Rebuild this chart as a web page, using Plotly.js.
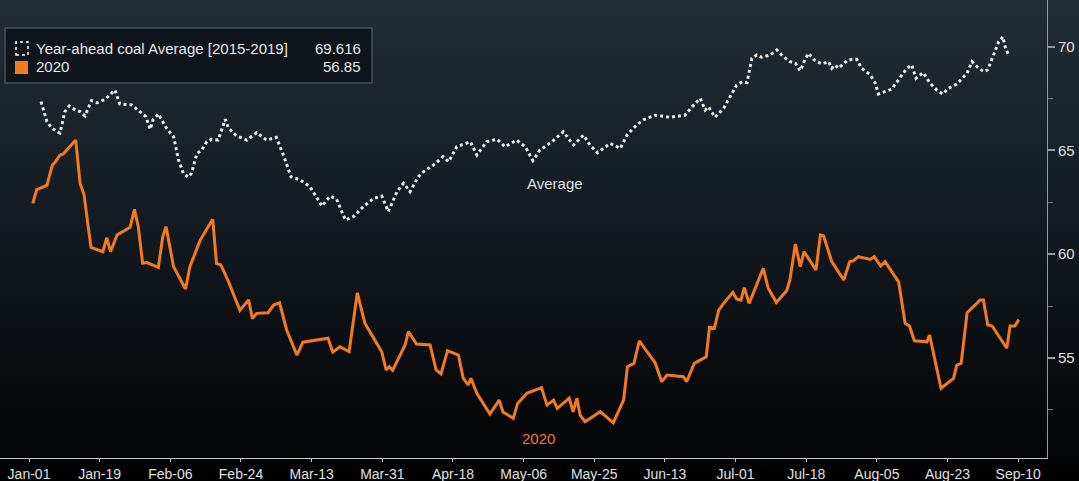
<!DOCTYPE html>
<html>
<head>
<meta charset="utf-8">
<script src="https://cdn.plot.ly/plotly-3.0.1.min.js"></script>
<style>
html,body{margin:0;padding:0;width:1079px;height:481px;overflow:hidden;}
body{background:linear-gradient(to bottom,#232d37 0%,#141b22 45%,#030405 95%,#000 100%);}
#chart{width:1079px;height:481px;}
</style>
</head>
<body>
<div id="chart"></div>
<script>
// Trading-day index (0 = Jan-01) and values
const tickDays = [0,13,26,39,52,65,78,91,104,117,130,143,156,169,182];
const tickLabels = ["Jan-01","Jan-19","Feb-06","Feb-24","Mar-13","Mar-31","Apr-18","May-06","May-25","Jun-13","Jul-01","Jul-18","Aug-05","Aug-23","Sep-10"];

const avgDays = [2.2,3.3,4.2,5.7,6.6,7.4,8.5,9.4,10.3,11.5,12.5,14.0,15.8,16.7,18.9,20.4,21.5,22.3,22.8,23.8,25.3,26.6,27.5,28.4,29.3,29.9,30.9,31.8,32.7,33.6,34.8,36.1,36.7,38.2,40.1,41.9,43.7,45.5,46.8,48.2,49.9,51.7,53.9,55.4,56.6,58.2,59.7,61.5,63.4,64.9,66.1,67.7,68.9,70.1,71.6,72.6,74.4,76.2,77.2,78.7,81.2,82.4,84.2,86.1,87.6,89.7,91.3,92.7,94.0,96.2,98.3,100.2,102.0,103.2,104.6,106.9,108.8,110.0,111.8,113.0,115.2,117.9,120.7,122.0,123.5,124.4,125.0,126.2,127.8,130.2,131.2,132.1,133.0,133.9,134.8,136.4,137.6,138.8,140.0,141.0,141.9,142.8,143.4,144.6,145.9,147.1,147.7,148.3,148.9,150.5,151.4,152.3,153.2,154.8,155.7,156.3,157.5,158.7,160.2,161.5,162.4,163.2,164.5,165.8,167.0,168.1,169.2,170.7,172.6,173.5,174.4,175.6,176.4,177.5,178.4,179.2,179.6,180.2];
const avgValues = [67.35,66.39,66.07,65.83,66.87,67.14,66.95,66.87,66.66,67.40,67.30,67.46,67.91,67.24,67.19,66.87,66.63,66.02,66.47,66.76,66.07,65.66,64.54,63.90,63.71,63.90,64.86,65.02,65.42,65.54,65.50,66.50,66.07,65.70,65.50,65.86,65.50,65.63,64.78,63.73,63.58,63.25,62.32,62.80,62.65,61.65,61.81,62.29,62.69,62.80,62.05,63.01,63.42,63.01,63.73,63.98,64.30,64.70,64.46,65.18,65.42,64.78,65.42,65.54,65.18,65.50,65.18,64.51,65.02,65.42,65.90,65.26,65.74,65.26,64.89,65.34,65.10,65.74,66.23,66.47,66.70,66.60,66.70,67.10,67.51,66.95,67.11,66.60,67.03,68.15,68.31,68.27,69.44,69.60,69.49,69.60,69.84,69.52,69.28,69.20,68.84,69.39,69.68,69.33,69.17,69.28,68.96,69.12,68.96,69.33,69.39,69.39,68.96,68.64,68.24,67.72,67.83,67.95,68.48,68.96,69.12,68.48,68.75,68.24,67.91,67.72,68.00,68.20,68.72,69.28,69.04,68.80,68.88,69.60,70.24,70.48,70.00,69.616];

const y2020Days = [0.7,1.4,3.3,4.3,4.8,5.7,6.3,8.6,9.4,10.1,11.4,13.6,14.3,15.0,16.2,17.1,18.6,19.4,20.1,20.9,21.7,23.8,24.6,25.2,26.6,28.8,29.6,31.5,33.8,34.5,35.3,36.7,38.8,40.4,41.1,41.9,44.0,45.0,46.1,47.4,48.6,49.3,50.4,52.6,55.0,55.9,57.2,58.9,60.4,61.8,64.9,65.7,66.3,66.9,69.2,69.8,71.3,73.8,74.9,75.8,77.0,79.0,79.9,80.8,81.3,82.4,84.8,86.5,87.2,89.1,89.9,91.6,94.3,95.3,96.5,97.2,99.4,100.1,100.8,101.4,102.3,105.1,107.5,109.4,110.1,111.3,112.3,113.7,115.2,116.4,117.4,120.4,121.0,122.4,124.6,125.2,126.1,126.9,127.8,129.5,130.2,131.0,131.6,132.5,135.1,136.0,137.5,139.4,140.0,141.0,141.9,142.6,144.8,145.6,146.2,147.7,149.9,151.0,151.7,152.6,154.8,155.5,156.7,157.5,160.0,161.2,162.0,162.9,165.2,165.7,167.8,170.1,170.7,171.5,172.6,175.0,175.6,176.4,177.2,179.9,180.5,181.4,182.1];
const y2020Values = [62.45,63.10,63.33,64.30,64.43,64.78,64.83,65.50,63.40,62.90,60.33,60.12,60.80,60.12,60.93,61.08,61.30,62.16,61.33,59.56,59.60,59.37,60.84,61.33,59.40,58.32,59.40,60.68,61.68,59.56,59.48,58.68,57.30,57.80,56.90,57.15,57.18,57.55,57.66,56.35,55.62,55.14,55.76,55.86,55.95,55.28,55.54,55.30,58.14,56.67,55.30,54.42,54.58,54.40,55.63,56.27,55.67,55.63,54.42,54.23,55.35,55.14,54.02,53.70,54.02,53.30,52.30,52.97,52.40,52.09,52.81,53.30,53.57,52.73,52.97,52.57,53.06,52.40,53.06,52.25,51.93,52.41,51.88,52.97,54.58,54.74,55.83,55.30,54.77,53.86,54.18,54.10,53.86,54.74,55.06,56.48,56.43,57.31,57.63,58.16,57.84,57.79,58.39,57.63,59.32,58.36,57.68,58.24,58.76,60.49,59.40,60.12,59.24,60.93,60.88,59.64,58.76,59.64,59.69,59.88,59.75,59.88,59.43,59.64,58.67,56.67,56.54,55.83,55.78,56.10,53.54,54.02,54.66,54.74,57.18,57.79,57.79,56.59,56.54,55.47,56.54,56.54,56.85];

const seriesNames = ["Year-ahead coal Average [2015-2019]","2020"];
const lastValues = ["69.616","56.85"];
const lineLabels = ["Average","2020"];

const ORANGE = "#f47a1f";
const WHITE = "#ececec";
const FONT = "Liberation Sans, Arial, sans-serif";
const PW = 1047, PH = 458;

const traces = [
  {x: avgDays, y: avgValues, type: "scatter", mode: "lines", name: seriesNames[0],
   line: {color: WHITE, width: 3, dash: "dot"}, hoverinfo: "skip"},
  {x: y2020Days, y: y2020Values, type: "scatter", mode: "lines", name: seriesNames[1],
   line: {color: ORANGE, width: 3}, hoverinfo: "skip"}
];

const layout = {
  width: 1079, height: 481,
  margin: {l: 0, r: 32, t: 0, b: 23, autoexpand: false},
  paper_bgcolor: "rgba(0,0,0,0)",
  plot_bgcolor: "rgba(0,0,0,0)",
  showlegend: false,
  font: {family: FONT, color: "#e0e0e0", size: 15},
  xaxis: {
    range: [-5.34, 187.3],
    tickmode: "array", tickvals: tickDays, ticktext: tickLabels,
    showgrid: false, zeroline: false,
    showline: true, linecolor: "#c8c8c8", linewidth: 1,
    ticks: "outside", ticklen: 3, tickcolor: "#c8c8c8", tickwidth: 1,
    tickfont: {family: FONT, size: 14, color: "#e0e0e0"}
  },
  yaxis: {
    side: "right",
    range: [50.18, 72.25],
    tickmode: "linear", tick0: 0, dtick: 5,
    showgrid: false, zeroline: false,
    showline: true, linecolor: "#9a9a9a", linewidth: 1,
    ticks: "outside", ticklen: 7, tickcolor: "#9a9a9a", tickwidth: 2,
    minor: {dtick: 2.5, tick0: 0, ticks: "outside", ticklen: 5, tickcolor: "#7a7a7a", tickwidth: 1},
    tickfont: {family: FONT, size: 15, color: "#e0e0e0"}
  },
  shapes: [
    {type: "rect", xref: "paper", yref: "paper",
     x0: 5/PW, x1: 372/PW, y0: 1 - 83/PH, y1: 1 - 28/PH,
     line: {color: "#4a5057", width: 1.5}, fillcolor: "#0f151b", layer: "above"},
    {type: "rect", xref: "paper", yref: "paper",
     x0: 16/PW, x1: 28/PW, y0: 1 - 55/PH, y1: 1 - 42/PH,
     line: {color: "#ffffff", width: 1.5, dash: "dot"}, fillcolor: "rgba(0,0,0,0)", layer: "above"},
    {type: "rect", xref: "paper", yref: "paper",
     x0: 15/PW, x1: 28/PW, y0: 1 - 74/PH, y1: 1 - 61/PH,
     line: {width: 0}, fillcolor: ORANGE, layer: "above"}
  ],
  annotations: [
    {xref: "paper", yref: "paper", x: 34/PW, y: 1 - 48/PH, xanchor: "left", yanchor: "middle",
     text: seriesNames[0], showarrow: false, font: {family: FONT, size: 15, color: "#e8e8e8"}},
    {xref: "paper", yref: "paper", x: 363/PW, y: 1 - 48/PH, xanchor: "right", yanchor: "middle",
     text: lastValues[0], showarrow: false, font: {family: FONT, size: 15, color: "#e8e8e8"}},
    {xref: "paper", yref: "paper", x: 34/PW, y: 1 - 67/PH, xanchor: "left", yanchor: "middle",
     text: seriesNames[1], showarrow: false, font: {family: FONT, size: 15, color: "#e8e8e8"}},
    {xref: "paper", yref: "paper", x: 363/PW, y: 1 - 67/PH, xanchor: "right", yanchor: "middle",
     text: lastValues[1], showarrow: false, font: {family: FONT, size: 15, color: "#e8e8e8"}},
    {xref: "x", yref: "y", x: 96.8, y: 63.43, xanchor: "center", yanchor: "middle",
     text: lineLabels[0], showarrow: false, font: {family: FONT, size: 15, color: "#e0e0e0"}},
    {xref: "x", yref: "y", x: 93.7, y: 51.1, xanchor: "center", yanchor: "middle",
     text: lineLabels[1], showarrow: false, font: {family: FONT, size: 15, color: ORANGE}}
  ]
};

Plotly.newPlot("chart", traces, layout, {displayModeBar: false, staticPlot: true});
</script>
</body>
</html>
